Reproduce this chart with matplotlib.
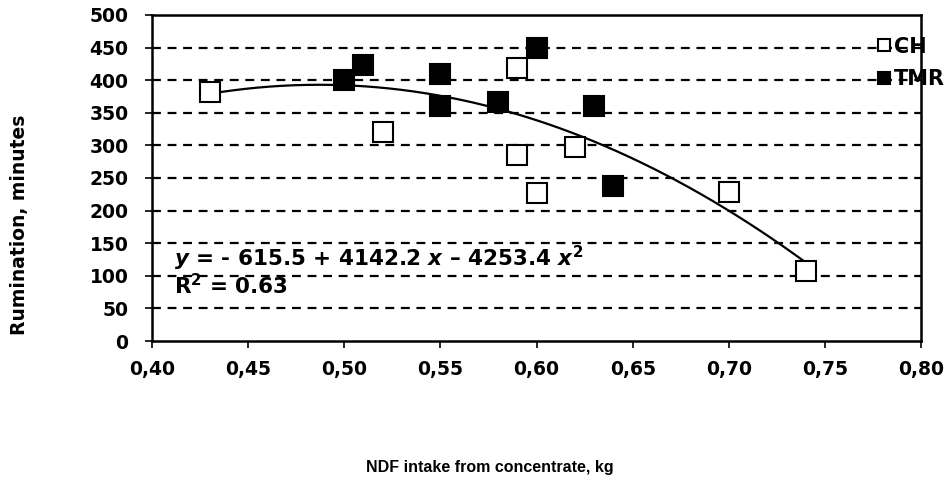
import numpy as np
import matplotlib.pyplot as plt

plt.rcParams['font.family'] = ['DejaVu Sans']
plt.rcParams['font.weight'] = 'bold'
plt.rcParams['mathtext.fontset'] = 'custom'
plt.rcParams['mathtext.rm'] = 'DejaVu Sans:bold'
plt.rcParams['mathtext.it'] = 'DejaVu Sans:bold:italic'
plt.rcParams['mathtext.bf'] = 'DejaVu Sans:bold'

# CH (open squares)
ch_x = [0.43, 0.52, 0.59, 0.59, 0.60, 0.62, 0.70, 0.74]
ch_y = [382, 321, 418, 285, 227, 298, 229, 107]

# TMR (filled squares)
tmr_x = [0.50, 0.51, 0.55, 0.55, 0.58, 0.60, 0.63, 0.64]
tmr_y = [400, 424, 410, 360, 366, 450, 360, 237]

# quadratic trend: y = c0 + c1*x + c2*x^2
coef = [-615.5, 4142.2, -4253.4]
trend_range = [0.43, 0.74]

xticks = [0.40, 0.45, 0.50, 0.55, 0.60, 0.65, 0.70, 0.75, 0.80]
xtick_labels = ['0,40', '0,45', '0,50', '0,55', '0,60', '0,65', '0,70', '0,75', '0,80']
yticks = list(range(0, 501, 50))

fig = plt.figure(figsize=(9.46, 4.79), dpi=100)
ax = fig.add_axes([0.1607, 0.2881, 0.8129, 0.6806])

for y in yticks[1:-1]:
    ax.axhline(y, color='black', linestyle=(0, (4, 3)), linewidth=1.6, zorder=1)

tx = np.linspace(trend_range[0], trend_range[1], 200)
ty = coef[0] + coef[1] * tx + coef[2] * tx ** 2
ax.plot(tx, ty, color='black', linewidth=1.6, zorder=2)

ax.plot(ch_x, ch_y, linestyle='none', marker='s', markersize=15,
        markerfacecolor='white', markeredgecolor='black', markeredgewidth=1.5,
        label='CH', zorder=3)
ax.plot(tmr_x, tmr_y, linestyle='none', marker='s', markersize=15,
        markerfacecolor='black', markeredgecolor='black', markeredgewidth=1.5,
        label='TMR', zorder=3)

ax.set_xlim(0.40, 0.80)
ax.set_ylim(0, 500)
ax.set_xticks(xticks)
ax.set_xticklabels(xtick_labels)
ax.set_yticks(yticks)
ax.tick_params(direction='out', length=5, width=1.2, labelsize=13.5)
ax.tick_params(axis='y', pad=12)
ax.tick_params(axis='x', pad=9)
for s in ax.spines.values():
    s.set_linewidth(1.8)

ax.text(0.4115, 114, r'$y$ = - 615.5 + 4142.2 $x$ – 4253.4 $x^2$',
        fontsize=15.5, fontweight='bold', va='baseline', ha='left')
ax.text(0.4115, 72, r'R$^2$ = 0.63', fontsize=15.5, fontweight='bold',
        va='baseline', ha='left')

leg = ax.legend(loc='center left', bbox_to_anchor=(0.93, 0.853), frameon=False,
                fontsize=15, markerscale=0.6, handlelength=0.8, handletextpad=0.1,
                labelspacing=0.6, borderaxespad=0)
for t in leg.get_texts():
    t.set_fontweight('bold')

fig.text(0.021, 0.53, 'Rumination, minutes', rotation=90, fontsize=13.5,
         fontweight='bold', ha='center', va='center')
fig.text(0.518, 0.025, 'NDF intake from concentrate, kg', fontsize=11.5,
         fontweight='bold', ha='center', va='center',
         family=['Liberation Sans'])

fig.savefig('out.png', dpi=100)
